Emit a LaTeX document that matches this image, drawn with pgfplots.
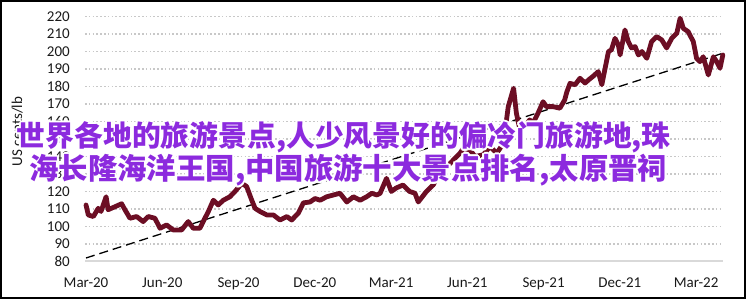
\documentclass[border=0pt]{standalone}
\usepackage{fontspec}
\setmainfont{Carlito}
\newfontfamily\cjk{Noto Sans CJK SC}
\usepackage{pgfplots}
\usetikzlibrary{calc}
\pgfplotsset{compat=1.18}
\definecolor{linecol}{RGB}{108,14,36}
\definecolor{txtcol}{RGB}{140,42,222}
\definecolor{gridcol}{RGB}{200,200,200}
\definecolor{axcol}{RGB}{217,217,217}
\begin{document}
\begin{tikzpicture}[x=1pt,y=1pt]
\useasboundingbox (0,0) rectangle (746,299);
\begin{axis}[
  at={(85pt,37.5pt)}, anchor=south west,
  scale only axis, width=637.8pt, height=245pt,
  xmin=-0.04, xmax=25.05, ymin=80, ymax=220,
  clip=false,
  axis x line*=bottom, axis y line*=left,
  y axis line style={draw=none},
  x axis line style={draw=axcol, line width=2pt, -},
  xtick={0,3,...,24},
  xticklabels={Mar-20,Jun-20,Sep-20,Dec-20,Mar-21,Jun-21,Sep-21,Dec-21,Mar-22},
  ytick={80,90,...,220},
  major tick length=0pt,
  ymajorgrids,
  major grid style={draw=gridcol, line width=1.6pt, dash pattern=on 1.6pt off 2.2pt},
  /pgf/number format/assume math mode=true,
  tick label style={font=\fontsize{15}{18}\selectfont, text=black!90},
  yticklabel style={anchor=east, inner sep=0pt, xshift=-15pt},
  xticklabel style={anchor=base, inner sep=0pt, yshift=-26.5pt},
]
\addplot[black, line width=1.3pt, dash pattern=on 9pt off 5pt] coordinates {(0,82) (25.05,199)};
\addplot[linecol, line width=4.8pt, line join=round, line cap=round] coordinates {
(0.00,112.3) (0.09,106.6) (0.29,105.7) (0.48,110.4) (0.59,108.6) (0.79,117) (0.87,109.6)
(1.14,111.3) (1.40,113) (1.53,109.6) (1.73,104.7) (1.99,105.7) (2.25,102.8) (2.45,105.7)
(2.71,104.7) (2.91,99) (3.17,100.9) (3.43,98) (3.76,98) (4.02,102.8) (4.22,99) (4.48,99)
(4.61,102.8) (4.81,108.5) (5.01,115) (5.20,112.3) (5.40,115) (5.66,117) (5.86,120)
(6.13,124.7) (6.32,122.8) (6.52,115) (6.65,110.4) (6.84,108.6) (7.11,106.6) (7.37,106.6)
(7.63,103.7) (7.90,105.7) (8.09,103.7) (8.35,107.6) (8.55,113.5) (8.81,114) (9.01,116)
(9.21,115) (9.47,117) (9.73,118) (9.99,119) (10.26,114) (10.52,117) (10.78,115) (11.04,117)
(11.24,119) (11.44,118) (11.57,119) (11.82,127.5) (12.01,120) (12.20,122) (12.47,123.7)
(12.73,120) (12.94,119) (13.07,114) (13.39,120) (13.66,123.8) (13.93,131.3) (14.19,134)
(14.45,138) (14.71,141.8) (14.84,144.6) (15.11,143.7) (15.30,140) (15.63,141) (15.89,145.7)
(16.16,141.9) (16.42,147.6) (16.61,168.5) (16.82,179) (16.93,164.7) (17.06,156) (17.26,157)
(17.45,160.9) (17.58,159) (17.78,164.7) (17.98,171.3) (18.11,168.5) (18.37,168.5)
(18.64,167.6) (18.83,172.3) (18.91,176.7) (19.04,181.8) (19.24,181) (19.43,184.7)
(19.63,182) (19.79,184) (19.96,186) (20.15,188.5) (20.29,181) (20.42,190.4) (20.55,199.9)
(20.67,201) (20.81,207.5) (20.94,203.8) (21.01,198) (21.20,212.3) (21.33,205.7)
(21.46,202) (21.60,202.8) (21.73,198) (21.87,200) (22.06,196.1) (22.25,205.7) (22.45,208.5)
(22.65,206.6) (22.84,202) (23.04,207.5) (23.24,210.4) (23.37,219) (23.50,213.2)
(23.69,211.3) (23.89,205.6) (24.02,196) (24.15,194.2) (24.28,197) (24.48,186.6)
(24.68,197) (24.81,194.2) (24.94,190.4) (25.05,198)
};
\end{axis}
\node[rotate=90, anchor=base, inner sep=0pt, font=\fontsize{15}{18}\selectfont, text=black!90] at (22,167.5) {US cents/lb};
% overlay text with white outline
\foreach \a in {0,30,...,330}{
  \node[anchor=base west, inner sep=0pt, text=white, font=\cjk\bfseries\fontsize{28.8}{33}\selectfont] at ($(16.7,152)+(\a:2)$) {世界各地的旅游景点,人少风景好的偏冷门旅游地,珠};
  \node[anchor=base west, inner sep=0pt, text=white, font=\cjk\bfseries\fontsize{29.4}{33}\selectfont] at ($(29,119)+(\a:2)$) {海长隆海洋王国,中国旅游十大景点排名,太原晋祠};
}
\node[anchor=base west, inner sep=0pt, text=txtcol, font=\cjk\bfseries\fontsize{28.8}{33}\selectfont] at (16.7,152) {世界各地的旅游景点,人少风景好的偏冷门旅游地,珠};
\node[anchor=base west, inner sep=0pt, text=txtcol, font=\cjk\bfseries\fontsize{29.4}{33}\selectfont] at (29,119) {海长隆海洋王国,中国旅游十大景点排名,太原晋祠};
\draw[line width=2pt] (1,1) rectangle (745,298);
\end{tikzpicture}
\end{document}
